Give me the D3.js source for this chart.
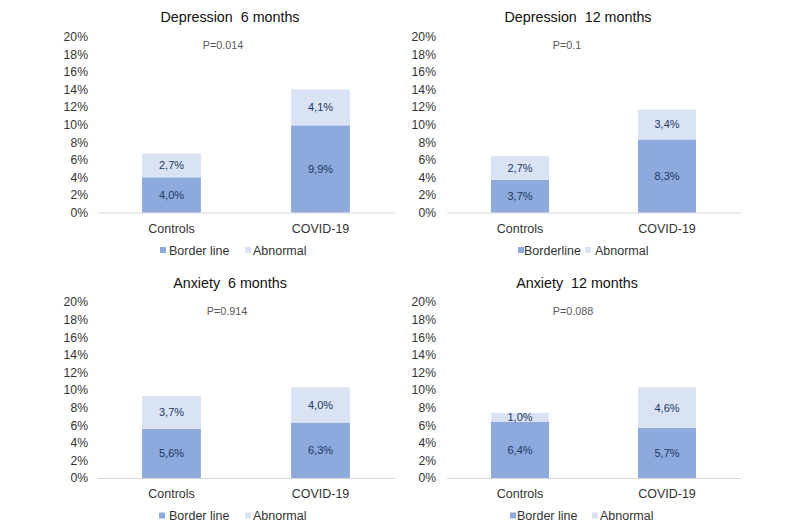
<!DOCTYPE html>
<html><head><meta charset="utf-8">
<script src="https://cdn.jsdelivr.net/npm/d3@7"></script>
<style>body{margin:0;background:#fff}svg{display:block}text{font-family:"Liberation Sans",Arial,sans-serif}</style>
</head><body><svg id="c" width="800" height="530"></svg>
<script>
const categories = ["Controls", "COVID-19"];
const panelTitles = ["Depression  6 months", "Depression  12 months", "Anxiety  6 months", "Anxiety  12 months"];
const pValues = ["P=0.014", "P=0.1", "P=0.914", "P=0.088"];
const borderline = [[4.0, 9.9], [3.7, 8.3], [5.6, 6.3], [6.4, 5.7]];
const abnormal = [[2.7, 4.1], [2.7, 3.4], [3.7, 4.0], [1.0, 4.6]];
const legendLabels = [["Border line", "Abnormal"], ["Borderline", "Abnormal"], ["Border line", "Abnormal"], ["Border line", "Abnormal"]];
const yTicks = [0, 2, 4, 6, 8, 10, 12, 14, 16, 18, 20];

const colBorder = "#8EA9DB", colAbn = "#DAE3F3";
const svg = d3.select("#c");

const layouts = [
  {x0: 97, x1: 395, dy: 0, tickX: 88, titleX: 230, pX: 223, leg: [160, 169, 245, 253]},
  {x0: 446.5, x1: 740.5, dy: 0, tickX: 436, titleX: 578, pX: 567, leg: [518, 524, 585, 595]},
  {x0: 97, x1: 395, dy: 265.5, tickX: 88, titleX: 230, pX: 227, leg: [159, 169, 245, 253]},
  {x0: 446.5, x1: 740.5, dy: 265.5, tickX: 436, titleX: 577, pX: 573, leg: [510, 517, 592, 600]}
];

layouts.forEach((L, i) => {
  const g = svg.append("g").attr("transform", `translate(0,${L.dy})`);
  const x = d3.scaleBand().domain(categories).range([L.x0, L.x1]).padding(0);
  const y = d3.scaleLinear().domain([0, 20]).range([212.5, 36.5]);
  const bw = x.bandwidth() * 0.395;

  // y tick labels
  const yAxis = d3.axisLeft(y).tickValues(yTicks).tickFormat(d => d + "%").tickSize(0).tickPadding(0);
  const ya = g.append("g").attr("transform", `translate(${L.tickX},0)`).call(yAxis);
  ya.select(".domain").remove();
  ya.selectAll("text").attr("font-size", 12.2).attr("fill", "#333").attr("font-family", "Liberation Sans, Arial, sans-serif");

  // x axis
  const xAxis = d3.axisBottom(x).tickSize(0).tickPadding(0);
  const xa = g.append("g").attr("transform", `translate(0,${y(0)})`).call(xAxis);
  xa.select(".domain").attr("stroke", "#d9d9d9").attr("stroke-width", 1);
  xa.selectAll("text").attr("font-size", 12.5).attr("fill", "#333").attr("dy", 0).attr("y", 20)
    .attr("font-family", "Liberation Sans, Arial, sans-serif");

  categories.forEach((c, j) => {
    const b = borderline[i][j], a = abnormal[i][j];
    const cx = x(c) + x.bandwidth() / 2;
    g.append("rect").attr("x", cx - bw / 2).attr("width", bw)
      .attr("y", y(b)).attr("height", y(0) - y(b)).attr("fill", colBorder);
    g.append("rect").attr("x", cx - bw / 2).attr("width", bw)
      .attr("y", y(b + a)).attr("height", y(b) - y(b + a)).attr("fill", colAbn);
    g.append("text").attr("x", cx).attr("y", (y(0) + y(b)) / 2).attr("dy", "0.36em")
      .attr("text-anchor", "middle").attr("font-size", 11).attr("fill", "#203864")
      .text(b.toFixed(1).replace(".", ",") + "%");
    g.append("text").attr("x", cx).attr("y", (y(b) + y(b + a)) / 2).attr("dy", "0.36em")
      .attr("text-anchor", "middle").attr("font-size", 11).attr("fill", "#203864")
      .text(a.toFixed(1).replace(".", ",") + "%");
  });

  g.append("text").attr("x", L.titleX).attr("y", 22).attr("text-anchor", "middle")
    .attr("font-size", 14.3).attr("fill", "#111").style("white-space", "pre").text(panelTitles[i]);
  g.append("text").attr("x", L.pX).attr("y", 49).attr("text-anchor", "middle")
    .attr("font-size", 10.8).attr("fill", "#595959").text(pValues[i]);

  // legend
  const ly = 250;
  g.append("rect").attr("x", L.leg[0]).attr("y", ly - 3).attr("width", 6).attr("height", 6).attr("fill", colBorder);
  g.append("text").attr("x", L.leg[1]).attr("y", ly).attr("dy", "0.36em").attr("font-size", 12.5).attr("fill", "#333").text(legendLabels[i][0]);
  g.append("rect").attr("x", L.leg[2]).attr("y", ly - 3).attr("width", 6).attr("height", 6).attr("fill", colAbn);
  g.append("text").attr("x", L.leg[3]).attr("y", ly).attr("dy", "0.36em").attr("font-size", 12.5).attr("fill", "#333").text(legendLabels[i][1]);
});
</script></body></html>
